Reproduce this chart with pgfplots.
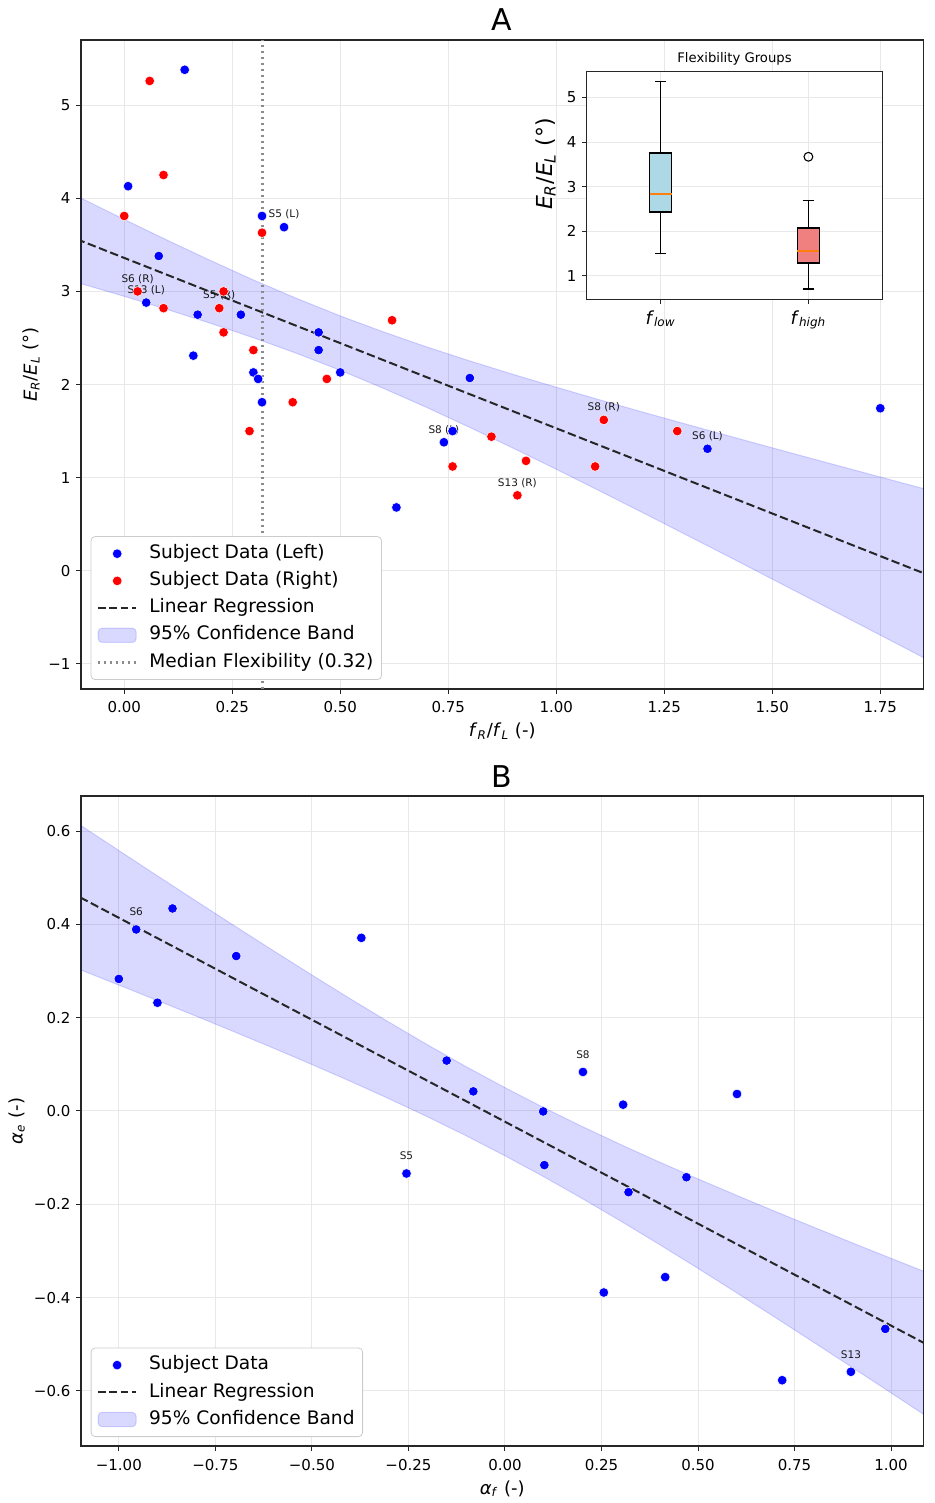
\documentclass[border=0pt]{standalone}
\usepackage{fontspec}
\setmainfont{DejaVu Sans}
\usepackage{pgfplots}
\pgfplotsset{compat=1.18}
\usepgfplotslibrary{statistics}
\definecolor{lightblueb}{HTML}{ADD8E6}
\definecolor{lightcoralb}{HTML}{F08080}
\definecolor{mplorange}{HTML}{FF7F0E}
\definecolor{gridgray}{HTML}{E8E8E8}
\newcommand{\fs}[1]{\fontsize{#1}{#1}\selectfont}
\newcommand{\sub}[1]{\textsubscript{\textit{#1}}}
\pgfplotsset{
  mpl/.style={
    scale only axis,
    width=421.25pt,
    tick align=outside,
    tick pos=left,
    major tick length=2.6pt,
    tick style={black!85, line width=0.5pt},
    axis line style={black!85, line width=0.6pt},
    grid=major,
    grid style={gridgray, line width=0.5pt},
    xticklabel style={font=\fs{7.5}, anchor=base, yshift=-9.4pt, inner sep=0pt},
    yticklabel style={font=\fs{7.5}, anchor=east, inner sep=0pt, xshift=-2.5pt},
    every axis title/.style={font=\fs{15}, at={(axis description cs:0.5,1)}, anchor=base, yshift=4.5pt, inner sep=0pt},
    xlabel style={font=\fs{9}, at={([yshift=-24pt]axis description cs:0.5,0)}, anchor=base, inner sep=0pt},
    legend style={at={(axis description cs:0,0)}, anchor=south west, xshift=4.85pt, yshift=4.5pt,
      font=\fs{9.3}, draw=black!20, fill=white, rounded corners=2pt,
      cells={anchor=west}, row sep=2.5pt, column sep=5pt, inner xsep=3pt, inner ysep=3pt,
      nodes={inner sep=1pt, text height=6.9pt, text depth=2.2pt}},
    legend cell align=left,
  },
  dotleg/.style={legend image code/.code={\path (0pt,0pt) (19pt,0pt);
      \draw[mark repeat=2, mark phase=2, ##1] plot coordinates {(0pt,0pt) (9.5pt,0pt) (19pt,0pt)};}},
  lineleg/.style={legend image code/.code={\draw[##1] (0pt,0pt) -- (19pt,0pt);}},
  bandleg/.style={legend image code/.code={\draw[##1] (0pt,-3.6pt) rectangle (19pt,3.6pt);}},
  pts/.style={only marks, mark=*, mark size=2.4pt, mark options={draw=white, line width=0.25pt, fill=#1}, color=#1},
  band/.style={fill=blue, fill opacity=0.15, draw=blue, draw opacity=0.15, line width=0.5pt},
  reg/.style={black!85, line width=1pt, dash pattern=on 4.2pt off 1.8pt},
}
\begin{document}
\begin{tikzpicture}
\useasboundingbox (0,0) rectangle (467.5pt,-751.5pt);

% ---------------- Panel A ----------------
\begin{axis}[mpl, at={(40.5pt,-20pt)}, anchor=north west, height=324.5pt,
  xmin=-0.1, xmax=1.85, ymin=-1.27, ymax=5.70,
  xtick={0,0.25,0.5,0.75,1,1.25,1.5,1.75},
  xticklabels={0.00,0.25,0.50,0.75,1.00,1.25,1.50,1.75},
  ytick={-1,0,1,2,3,4,5}, yticklabels={−1,0,1,2,3,4,5},
  title={A},
  xlabel={\textit{f}\sub{R}/\textit{f}\sub{L} (-)},
  ylabel={\textit{E}\sub{R}/\textit{E}\sub{L} (°)},
  ylabel style={font=\fs{9}, at={([xshift=-22pt]axis description cs:0,0.5)}, anchor=base, inner sep=0pt},
]
\addplot[draw=none, mark=none, forget plot, nodes near coords, point meta=explicit symbolic,
  every node near coord/.append style={font=\fs{5.25}, anchor=center, yshift=6.25pt, inner sep=0pt, text=black!90}]
  table[meta=lab, col sep=comma, row sep=\\] {
x,y,lab\\
0.031,3.00,S6 (R)\\
0.051,2.88,S13 (L)\\
0.22,2.82,S5 (R)\\
0.37,3.69,S5 (L)\\
0.74,1.38,S8 (L)\\
1.11,1.62,S8 (R)\\
1.35,1.31,S6 (L)\\
0.91,0.81,S13 (R)\\
};
\addplot[pts=blue, forget plot] coordinates {
(0.14,5.38) (0.009,4.13) (0.319,3.81) (0.37,3.69) (0.08,3.38) (0.051,2.88) (0.17,2.75)
(0.27,2.75) (0.45,2.56) (0.45,2.37) (0.16,2.31) (0.299,2.13) (0.31,2.06) (0.50,2.13)
(0.80,2.07) (0.319,1.81) (0.76,1.50) (0.74,1.38) (0.63,0.68) (1.35,1.31) (1.75,1.745)};
\addplot[pts=red, forget plot] coordinates {
(0.059,5.26) (0.091,4.25) (0.0,3.81) (0.319,3.63) (0.031,3.00) (0.23,3.00) (0.091,2.82)
(0.22,2.82) (0.23,2.56) (0.299,2.37) (0.62,2.69) (0.469,2.06) (0.39,1.81) (0.29,1.50)
(0.85,1.44) (0.76,1.12) (0.93,1.18) (1.11,1.62) (1.28,1.50) (1.09,1.12) (0.91,0.81)};
\addplot[band, forget plot] coordinates {
(-0.11,4.025) (0.0,3.773) (0.1,3.549) (0.2,3.331) (0.3,3.121) (0.4,2.923) (0.5,2.737)
(0.6,2.565) (0.7,2.404) (0.8,2.253) (0.9,2.109) (1.0,1.971) (1.1,1.836) (1.2,1.704)
(1.3,1.575) (1.4,1.447) (1.5,1.320) (1.6,1.194) (1.7,1.069) (1.8,0.944) (1.86,0.870)
(1.86,-0.958) (1.8,-0.812) (1.7,-0.571) (1.6,-0.330) (1.5,-0.090) (1.4,0.150) (1.3,0.387)
(1.2,0.624) (1.1,0.858) (1.0,1.090) (0.9,1.317) (0.8,1.539) (0.7,1.754) (0.6,1.959)
(0.5,2.153) (0.4,2.333) (0.3,2.501) (0.2,2.657) (0.1,2.805) (0.0,2.947) (-0.11,3.097)} -- cycle;
\addplot[reg, forget plot] coordinates {(-0.11,3.561) (1.86,-0.044)};
\addplot[gray!90, line width=1.1pt, dash pattern=on 1.1pt off 1.9pt, forget plot] coordinates {(0.32,-1.27) (0.32,5.70)};
\addlegendimage{pts=blue, dotleg}
\addlegendentry{Subject Data (Left)}
\addlegendimage{pts=red, dotleg}
\addlegendentry{Subject Data (Right)}
\addlegendimage{black!85, line width=1pt, dash pattern=on 3.9pt off 1.7pt, lineleg}
\addlegendentry{Linear Regression}
\addlegendimage{band, bandleg}
\addlegendentry{95\% Confidence Band}
\addlegendimage{gray!90, line width=1.1pt, dash pattern=on 1.1pt off 1.9pt, lineleg}
\addlegendentry{Median Flexibility (0.32)}
\end{axis}

% ---------------- Inset ----------------
\begin{axis}[at={(293.35pt,-35.85pt)}, anchor=north west, scale only axis,
  width=147.8pt, height=113.8pt,
  xmin=0.5, xmax=2.5, ymin=0.47, ymax=5.58,
  axis background/.style={fill=white},
  tick align=outside, tick pos=left, major tick length=2.2pt,
  tick style={black!85, line width=0.5pt},
  axis line style={black!85, line width=0.6pt},
  grid=major, grid style={gridgray, line width=0.5pt},
  xtick={1,2}, xticklabels={\textit{f}\sub{low},\textit{f}\sub{high}},
  ytick={1,2,3,4,5}, yticklabels={1,2,3,4,5},
  xticklabel style={font=\fs{9}, anchor=base, yshift=-10.15pt, inner sep=0pt},
  yticklabel style={font=\fs{7.5}, anchor=east, inner sep=0pt, xshift=-2.8pt},
  title={Flexibility Groups},
  every axis title/.style={font=\fs{6.6}, at={(axis description cs:0.5,1)}, anchor=base, yshift=4.5pt, inner sep=0pt},
  ylabel={\textit{E}\sub{R}/\textit{E}\sub{L} (°)},
  ylabel style={font=\fs{11}, at={([xshift=-17.35pt]axis description cs:0,0.594)}, anchor=base, inner sep=0pt},
  boxplot/draw direction=y,
]
\addplot[boxplot prepared={draw position=1, lower whisker=1.50, lower quartile=2.43,
    median=2.84, upper quartile=3.75, upper whisker=5.36},
  boxplot/box extend=0.15, boxplot/whisker extend=0.075,
  fill=lightblueb, draw=black, line width=0.75pt,
  boxplot/every median/.style={draw=mplorange, line width=0.8pt}] coordinates {};
\addplot[boxplot prepared={draw position=2, lower whisker=0.70, lower quartile=1.29,
    median=1.56, upper quartile=2.07, upper whisker=2.69},
  boxplot/box extend=0.15, boxplot/whisker extend=0.075,
  fill=lightcoralb, draw=black, line width=0.75pt,
  boxplot/every median/.style={draw=mplorange, line width=0.8pt}] coordinates {};
\addplot[only marks, mark=o, mark size=2.2pt, black, line width=0.55pt] coordinates {(2,3.67)};
\end{axis}

% ---------------- Panel B ----------------
\begin{axis}[mpl, at={(40.5pt,-398pt)}, anchor=north west, height=325pt,
  xmin=-1.098, xmax=1.084, ymin=-0.718, ymax=0.675,
  xtick={-1,-0.75,-0.5,-0.25,0,0.25,0.5,0.75,1},
  xticklabels={−1.00,−0.75,−0.50,−0.25,0.00,0.25,0.50,0.75,1.00},
  ytick={-0.6,-0.4,-0.2,0,0.2,0.4,0.6},
  yticklabels={−0.6,−0.4,−0.2,0.0,0.2,0.4,0.6},
  title={B},
  xlabel={\textit{α}\sub{f} (-)},
  ylabel={\textit{α}\sub{e} (-)},
  ylabel style={font=\fs{9}, at={([xshift=-29.15pt]axis description cs:0,0.5)}, anchor=base, inner sep=0pt},
]
\addplot[draw=none, mark=none, forget plot, nodes near coords, point meta=explicit symbolic,
  every node near coord/.append style={font=\fs{5.25}, anchor=center, yshift=8.75pt, inner sep=0pt, text=black!90}]
  table[meta=lab, col sep=comma, row sep=\\] {
x,y,lab\\
-0.955,0.389,S6\\
-0.255,-0.134,S5\\
0.202,0.0836,S8\\
0.896,-0.559,S13\\
};
\addplot[pts=blue, forget plot] coordinates {
(-1.0,0.283) (-0.955,0.389) (-0.90,0.232) (-0.861,0.434) (-0.696,0.332) (-0.372,0.371)
(-0.151,0.108) (-0.082,0.042) (-0.255,-0.134) (0.202,0.0836) (0.099,-0.001) (0.306,0.0135)
(0.601,0.0364) (0.102,-0.116) (0.32,-0.174) (0.47,-0.142) (0.256,-0.389) (0.415,-0.356)
(0.718,-0.577) (0.896,-0.559) (0.985,-0.467)};
\addplot[band, forget plot] coordinates {
(-1.1,0.6127) (-1.0,0.5582) (-0.9,0.5039) (-0.8,0.450) (-0.7,0.3965) (-0.6,0.3436)
(-0.5,0.2914) (-0.4,0.2401) (-0.3,0.1901) (-0.2,0.1415) (-0.1,0.0947) (0,0.050)
(0.1,0.0073) (0.2,-0.0333) (0.3,-0.0721) (0.4,-0.1095) (0.5,-0.1456) (0.6,-0.1808)
(0.7,-0.2153) (0.8,-0.2492) (0.9,-0.2827) (1.0,-0.3158) (1.1,-0.3487)
(1.1,-0.6587) (1.0,-0.6042) (0.9,-0.5499) (0.8,-0.496) (0.7,-0.4425) (0.6,-0.3896)
(0.5,-0.3374) (0.4,-0.2861) (0.3,-0.2361) (0.2,-0.1875) (0.1,-0.1407) (0,-0.096)
(-0.1,-0.0533) (-0.2,-0.0127) (-0.3,0.0261) (-0.4,0.0635) (-0.5,0.0996) (-0.6,0.1348)
(-0.7,0.1693) (-0.8,0.2032) (-0.9,0.2367) (-1.0,0.2698) (-1.1,0.3027)} -- cycle;
\addplot[reg, forget plot] coordinates {(-1.1,0.4577) (1.1,-0.5037)};
\addlegendimage{pts=blue, dotleg}
\addlegendentry{Subject Data}
\addlegendimage{black!85, line width=1pt, dash pattern=on 3.9pt off 1.7pt, lineleg}
\addlegendentry{Linear Regression}
\addlegendimage{band, bandleg}
\addlegendentry{95\% Confidence Band}
\end{axis}
\end{tikzpicture}
\end{document}
